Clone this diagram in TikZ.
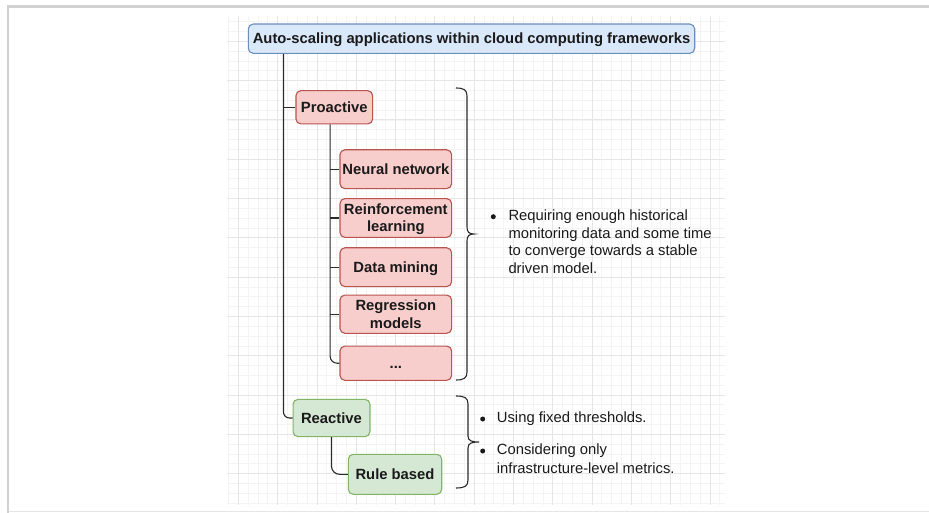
\documentclass[tikz,border=0pt]{standalone}
\usepackage{fontspec}
\setmainfont{Liberation Sans}

\definecolor{topicfill}{HTML}{DAE8FC}
\definecolor{topicline}{HTML}{6C8EBF}
\definecolor{profill}{HTML}{F8CECC}
\definecolor{proline}{HTML}{B85450}
\definecolor{reafill}{HTML}{D5E8D4}
\definecolor{realine}{HTML}{82B366}
\definecolor{connc}{HTML}{2B2B2B}
\definecolor{notec}{HTML}{1A1A1A}
\definecolor{gridminor}{HTML}{F4F4F4}
\definecolor{gridmajor}{HTML}{E6E6E6}
\definecolor{framegray}{HTML}{D2D2D2}
\definecolor{framelight}{HTML}{E6E6E6}

\newcommand\diagfont{\fontsize{14.8}{17.6}\selectfont}

\tikzset{
  box/.style={draw, rounded corners=5pt, line width=1.1pt, inner sep=0pt,
              font=\diagfont\bfseries, align=center, text=notec},
  oneline/.style={text height=10.6pt, text depth=0pt},
  topic/.style={box, oneline, fill=topicfill, draw=topicline},
  probox/.style={box, fill=profill, draw=proline},
  reabox/.style={box, fill=reafill, draw=realine},
  conn/.style={draw=connc, line width=1.1pt},
  brace/.style={draw=connc, line width=1.1pt},
  note/.style={anchor=base west, inner sep=0pt, text=notec, font=\diagfont},
  dot/.style={fill=notec}
}

\begin{document}
\begin{tikzpicture}[x=1pt, y=-1pt]
\useasboundingbox (0,0) rectangle (929,513);
\fill[white] (0,0) rectangle (929,513);

% page frame
\fill[framegray] (6.7,5) rectangle (929,8.3);
\fill[framegray] (6.7,5) rectangle (9.3,513);
\draw[framelight, line width=0.8pt] (9.3,511.6) -- (929,511.6);

% background grid
\begin{scope}
  \clip (227,16) rectangle (725,505);
  \foreach \i in {0,...,50}
    \draw[gridminor, line width=0.7pt] ({228.48+9.825*\i},16) -- ++(0,489);
  \foreach \i in {0,...,49}
    \draw[gridminor, line width=0.7pt] (227,{21.65+9.825*\i}) -- ++(498,0);
  \foreach \i in {0,...,12}
    \draw[gridmajor, line width=0.8pt] ({238.3+39.3*\i},16) -- ++(0,489);
  \foreach \i in {0,...,11}
    \draw[gridmajor, line width=0.8pt] (227,{41.3+39.3*\i}) -- ++(498,0);
\end{scope}

% boxes
\node[topic, minimum width=446.4pt, minimum height=29.3pt] (title) at (471.5,38.7)
  {Auto-scaling applications within cloud computing frameworks};

\node[probox, oneline, minimum width=76.7pt, minimum height=33.3pt] (pro) at (334.3,107.3) {Proactive};
\node[probox, oneline, minimum width=111.7pt, minimum height=38.8pt] (nn) at (395.8,169.2) {Neural network};
\node[probox, minimum width=111.7pt, minimum height=38.8pt] (rl) at (395.8,218.0)
  {\begin{tabular}{@{}c@{}}\rule{0pt}{15.4pt}Reinforcement\\learning\end{tabular}};
\node[probox, oneline, minimum width=111.7pt, minimum height=38.8pt] (dm) at (395.8,267.2) {Data mining};
\node[probox, minimum width=111.7pt, minimum height=35pt] (reg) at (395.8,314.2)
  {\begin{tabular}{@{}c@{}}\rule{0pt}{15.4pt}Regression\\models\end{tabular}};
\node[probox, oneline, minimum width=111.7pt, minimum height=34.3pt] (dots) at (395.8,363.2) {...};

\node[reabox, oneline, minimum width=76.9pt, minimum height=37.3pt] (rea) at (331.5,418) {Reactive};
\node[reabox, oneline, minimum width=93.4pt, minimum height=40pt] (rule) at (395,474.3) {Rule based};

% tree connectors
\coordinate (trunk) at ([xshift=35.7pt]title.south west);
\coordinate (prostem) at ([xshift=34.7pt]pro.south west);
\draw[conn, rounded corners=6pt] (trunk) |- (rea.west);
\draw[conn] (trunk |- pro.west) -- (pro.west);
\draw[conn, rounded corners=7pt] (prostem) |- (dots.west);
\foreach \n in {nn,rl,dm,reg}
  \draw[conn] (prostem |- \n.west) -- (\n.west);
\draw[conn, rounded corners=8pt] (rea.south) |- (rule.west);

% braces
\draw[brace] (456,88) .. controls (464,88) and (467,90) .. (467,96) -- (467,227)
  .. controls (467,232) and (469,234) .. (474,234)
  .. controls (469,234) and (467,236) .. (467,241) -- (467,372)
  .. controls (467,378) and (464,380) .. (456,380);
\draw[brace] (456,396) .. controls (465,396) and (468,398) .. (468,404) -- (468,436)
  .. controls (468,441) and (472,442) .. (479,442)
  .. controls (472,442) and (468,443) .. (468,448) -- (468,480)
  .. controls (468,486) and (465,488) .. (456,488);

% notes
\fill[dot] (493.3,216.7) circle (2.5pt);
\node[note] (n1a) at (508.3,220.5) {Requiring enough historical};
\node[note] (n1b) at (508.3,238.1) {monitoring data and some time};
\node[note] (n1c) at (508.3,255.6) {to converge towards a stable};
\node[note] (n1d) at (508.3,273.2) {driven model.};

\fill[dot] (482.7,419) circle (2.5pt);
\node[note] (n2a) at (496.7,422.9) {Using fixed thresholds.};
\fill[dot] (482.7,451) circle (2.5pt);
\node[note] (n3a) at (496.7,454.9) {Considering only};
\node[note] (n3b) at (496.7,473.2) {infrastructure-level metrics.};
\end{tikzpicture}
\end{document}
